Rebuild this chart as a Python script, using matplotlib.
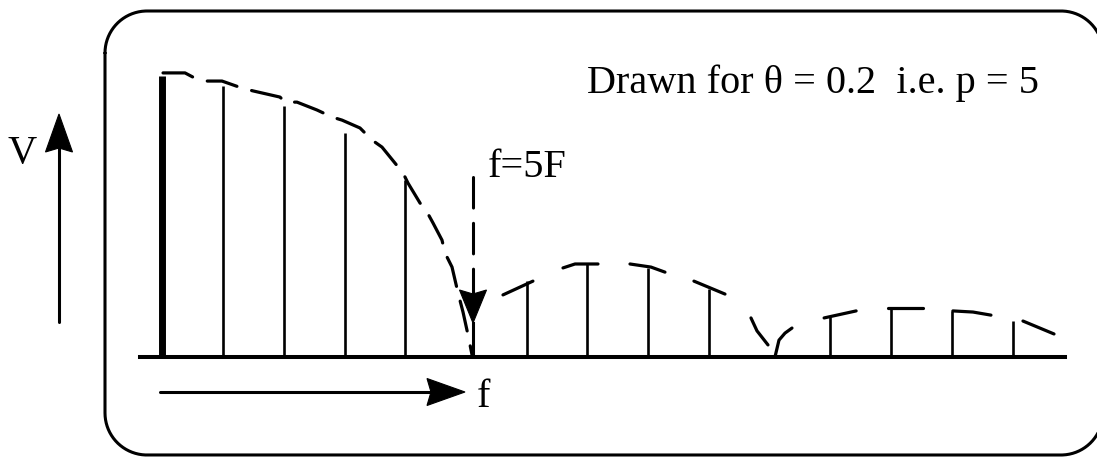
import numpy as np
import matplotlib
matplotlib.use("Agg")
import matplotlib.pyplot as plt
from matplotlib.patches import Polygon

plt.rcParams["font.family"] = ["Liberation Serif", "DejaVu Serif"]
plt.rcParams["lines.scale_dashes"] = False

# line spectrum of the pulse train, amplitudes relative to the d.c. line
harmonic = np.arange(15)
amplitude = [1.0, 0.964, 0.893, 0.797, 0.630, 0.0, 0.270, 0.331, 0.317,
             0.242, 0.0, 0.142, 0.174, 0.164, 0.128]

# sketched sinc envelope over the main lobe (harmonic no., amplitude)
env_n = [0.012, 0.374, 0.505, 0.736, 0.983, 1.312, 1.493, 1.938, 2.020,
         2.218, 2.547, 2.794, 2.959, 3.255, 3.453, 3.617, 3.963, 4.045,
         4.243, 4.358, 4.457, 4.605, 4.655, 4.770, 4.869, 4.951, 5.034, 5.100]
env_v = [1.011, 1.011, 0.996, 0.982, 0.982, 0.957, 0.947, 0.925, 0.907,
         0.907, 0.879, 0.854, 0.843, 0.815, 0.772, 0.747, 0.655, 0.619,
         0.548, 0.516, 0.477, 0.416, 0.370, 0.320, 0.228, 0.160, 0.078, 0.007]

# short envelope strokes over the side lobes
cap_n = [[5.609, 6.102], [6.597, 6.795, 7.173], [7.700, 8.046, 8.276],
         [8.753, 9.264], [9.692, 9.791, 9.972], [10.087, 10.153, 10.252, 10.367],
         [10.896, 11.423], [11.948, 12.525], [13.016, 13.347, 13.643],
         [14.170, 14.681]]
cap_v = [[0.221, 0.270], [0.317, 0.331, 0.331], [0.331, 0.320, 0.302],
         [0.270, 0.224], [0.139, 0.093, 0.043], [0.0, 0.060, 0.085, 0.103],
         [0.139, 0.164], [0.174, 0.174], [0.164, 0.160, 0.149],
         [0.128, 0.082]]

note = "Drawn for \u03b8 = 0.2  i.e. p = 5"
null_label = "f=5F"
FS = 29


def arrow(a, x0, y0, x1, y1, head_len=38, head_w=27, lw=2.2, notch=4, dashes=None):
    d = np.hypot(x1 - x0, y1 - y0)
    ux, uy = (x1 - x0) / d, (y1 - y0) / d
    bx, by = x1 - ux * head_len, y1 - uy * head_len
    kw = dict(color="k", lw=lw, solid_capstyle="round")
    if dashes:
        kw["dashes"] = dashes
        kw["dash_capstyle"] = "round"
    a.plot([x0, bx + ux * notch], [y0, by + uy * notch], **kw)
    px, py = -uy, ux
    a.add_patch(Polygon([(x1, y1),
                         (bx + px * head_w / 2, by + py * head_w / 2),
                         (bx + ux * notch, by + uy * notch),
                         (bx - px * head_w / 2, by - py * head_w / 2)],
                        closed=True, fc="k", ec="k", lw=0.8))


def rounded_box(a, x0, y0, x1, y1, r, lw=2.2):
    t = np.linspace(0, np.pi / 2, 40)
    s, c = np.sin(t), np.cos(t)
    xs = np.concatenate([x0 + r - r * c, x1 - r + r * s, x1 - r + r * c, x0 + r - r * s, [x0]])
    ys = np.concatenate([y0 + r - r * s, y0 + r - r * c, y1 - r + r * s, y1 - r + r * c, [y0 + r]])
    a.plot(xs, ys, color="k", lw=lw, solid_joinstyle="round", solid_capstyle="round")


fig = plt.figure(figsize=(10.97, 4.57), dpi=100)

# pixel-space layer for the frame, arrows and labels
deco = fig.add_axes([0, 0, 1, 1])
deco.set_xlim(0, 1097)
deco.set_ylim(457, 0)
deco.axis("off")

ax = fig.add_axes([140 / 1097, 100 / 457, 925 / 1097, 337.2 / 457])
ax.set_xlim(-0.367, 14.862)
ax.set_ylim(0, 1.2)
ax.axis("off")
ax.patch.set_alpha(0)

ax.axhline(0, color="k", lw=2.9, clip_on=False)
ax.vlines(harmonic[0], 0, amplitude[0], color="k", lw=5)
ax.vlines(harmonic[1:], 0, amplitude[1:], color="k", lw=1.9)
ax.plot(env_n, env_v, color="k", lw=2.3, dashes=(22, 11), dash_capstyle="round")
for cn, cv in zip(cap_n, cap_v):
    ax.plot(cn, cv, color="k", lw=2.3, solid_capstyle="round", solid_joinstyle="round")

rounded_box(deco, 105, 11, 1103, 455, 42)

arrow(deco, 59, 322, 59, 114)
arrow(deco, 160, 392, 465, 392)
arrow(deco, 473, 177, 473, 323, head_len=33, dashes=(22, 11))
deco.plot([473, 473], [323, 353], color="k", lw=2.2)

deco.text(587, 93, note, fontsize=FS, ha="left", va="baseline")
deco.text(7, 163, "V", fontsize=FS, ha="left", va="baseline")
deco.text(488, 177, null_label, fontsize=FS, ha="left", va="baseline")
deco.text(477, 407, "f", fontsize=FS, ha="left", va="baseline")

fig.savefig("out.png", dpi=100)
